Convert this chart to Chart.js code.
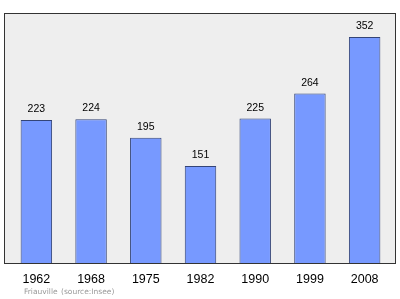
<!DOCTYPE html>
<html>
<head>
<meta charset="utf-8">
<script src="https://cdn.jsdelivr.net/npm/chart.js@4"></script>
<style>
html,body{margin:0;padding:0;background:#fff;}
#wrap{width:400px;height:299px;}
</style>
</head>
<body>
<div id="wrap"><canvas id="c" width="400" height="299"></canvas></div>
<script>
const years = ["1962","1968","1975","1982","1990","1999","2008"];
const population = [223,224,195,151,225,264,352];
const footerPlace = "Friauville";
const footerSource = "(source:Insee)";

const frame = {
  id:'frame',
  beforeDatasetsDraw(chart){
    const {ctx, chartArea:a} = chart;
    ctx.save();
    ctx.fillStyle = '#eeeeee';
    ctx.strokeStyle = '#333333';
    ctx.lineWidth = 1;
    ctx.fillRect(4.5, a.top - 0.5, 391, a.bottom - a.top + 1);
    ctx.strokeRect(4.5, a.top - 0.5, 391, a.bottom - a.top + 1);
    ctx.restore();
  },
  afterDraw(chart){
    const {ctx} = chart;
    const meta = chart.getDatasetMeta(0);
    ctx.save();
    ctx.fillStyle = '#000';
    ctx.font = '10.5px "Liberation Sans", Arial, sans-serif';
    ctx.textAlign = 'center';
    ctx.textBaseline = 'alphabetic';
    meta.data.forEach((bar, i) => {
      ctx.fillText(String(population[i]), bar.x, bar.y - 8);
    });
    ctx.fillStyle = '#999999';
    ctx.font = '7.5px "DejaVu Sans", sans-serif';
    ctx.textAlign = 'left';
    ctx.fillText(footerPlace, 24, 294);
    ctx.fillText(footerSource, 61, 294);
    ctx.restore();
  }
};

new Chart(document.getElementById('c'), {
  type:'bar',
  data:{
    labels: years,
    datasets:[{
      data: population,
      backgroundColor:'#7799ff',
      borderColor:'#334477',
      borderWidth:1,
      categoryPercentage:1,
      barPercentage:0.575
    }]
  },
  options:{
    responsive:false,
    animation:false,
    events:[],
    layout:{padding:{left:9,right:8,top:14,bottom:0}},
    plugins:{legend:{display:false},tooltip:{enabled:false}},
    scales:{
      x:{
        grid:{display:false,drawTicks:false},
        border:{display:false},
        ticks:{color:'#000',font:{family:'"Liberation Sans", Arial, sans-serif',size:12.5},padding:9,maxRotation:0},
        afterFit(s){ s.height = 36; }
      },
      y:{display:false,min:0,max:388}
    }
  },
  plugins:[frame]
});
</script>
</body>
</html>
